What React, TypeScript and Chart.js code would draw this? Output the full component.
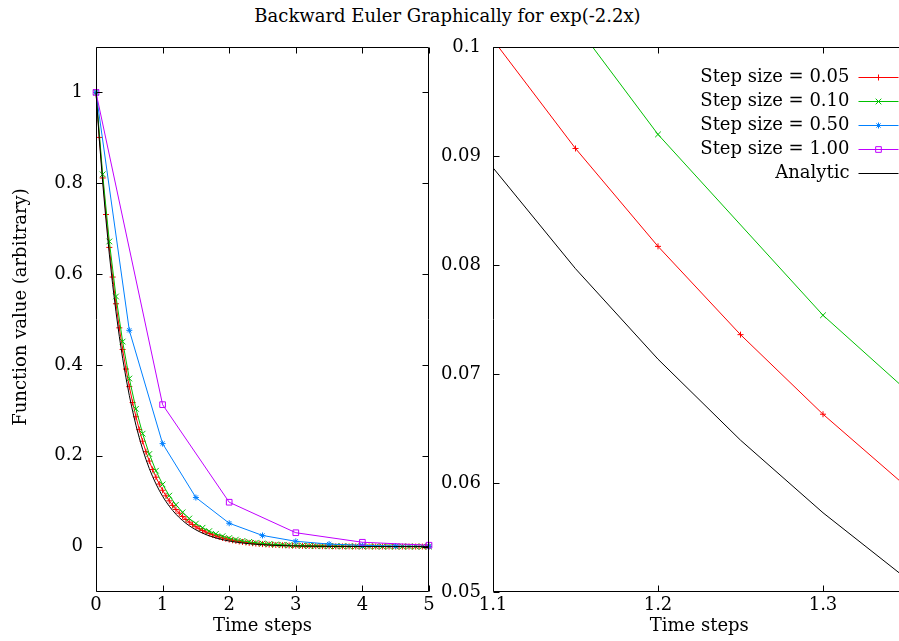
import React, { useEffect, useRef } from 'react';
import { Chart, registerables } from 'chart.js';
Chart.register(...registerables);

const FONT = "'DejaVu Serif', serif";
const FONT_SIZE = 18;

const TITLE = 'Backward Euler Graphically for exp(-2.2x)';
const X_TITLE = 'Time steps';
const Y_TITLE = 'Function value (arbitrary)';

// Backward Euler results, one value per time step
const Y_005 = [
  1, 0.90090, 0.81162, 0.73119, 0.65873, 0.59345, 0.53464, 0.48166, 0.43393, 0.39093,
  0.35218, 0.31728, 0.28584, 0.25751, 0.23200, 0.20900, 0.18829, 0.16963, 0.15282, 0.13768,
  0.12403, 0.11174, 0.10067, 0.09069, 0.08171, 0.07361, 0.06631, 0.05974, 0.05382, 0.04849,
  0.04368, 0.03935, 0.03545, 0.03194, 0.02878, 0.02592, 0.02336, 0.02104, 0.01896, 0.01708,
  0.01539, 0.01386, 0.01249, 0.01125, 0.01014, 0.00913, 0.00823, 0.00741, 0.00668, 0.00602,
  0.00542, 0.00488, 0.00440, 0.00396, 0.00357, 0.00322, 0.00290, 0.00261, 0.00235, 0.00212,
  0.00191, 0.00172, 0.00155, 0.00140, 0.00126, 0.00113, 0.00102, 0.00092, 0.00083, 0.00075,
  0.00067, 0.00061, 0.00055, 0.00049, 0.00044, 0.00040, 0.00036, 0.00032, 0.00029, 0.00026,
  0.00024, 0.00021, 0.00019, 0.00017, 0.00016, 0.00014, 0.00013, 0.00011, 0.00010, 0.00009,
  0.00008, 0.00008, 0.00007, 0.00006, 0.00006, 0.00005, 0.00004, 0.00004, 0.00004, 0.00003,
  0.00003,
];
const Y_010 = [
  1, 0.81967, 0.67186, 0.55071, 0.45140, 0.37000, 0.30328, 0.24859, 0.20376, 0.16702,
  0.13690, 0.11221, 0.09198, 0.07539, 0.06180, 0.05065, 0.04152, 0.03403, 0.02790, 0.02287,
  0.01874, 0.01536, 0.01259, 0.01032, 0.00846, 0.00693, 0.00568, 0.00466, 0.00382, 0.00313,
  0.00257, 0.00210, 0.00172, 0.00141, 0.00116, 0.00095, 0.00078, 0.00064, 0.00052, 0.00043,
  0.00035, 0.00029, 0.00024, 0.00019, 0.00016, 0.00013, 0.00011, 0.00009, 0.00007, 0.00006,
  0.00005,
];
const Y_050 = [1, 0.47619, 0.22676, 0.10798, 0.05142, 0.02449, 0.01166, 0.00555, 0.00264, 0.00126, 0.00060];
const Y_100 = [1, 0.3125, 0.09766, 0.03052, 0.00954, 0.00298];
const Y_ANALYTIC = [
  1, 0.89583, 0.80252, 0.71892, 0.64404, 0.57695, 0.51685, 0.46301, 0.41478, 0.37158,
  0.33287, 0.29820, 0.26714, 0.23931, 0.21438, 0.19205, 0.17205, 0.15412, 0.13807, 0.12369,
  0.11080, 0.09926, 0.08892, 0.07966, 0.07136, 0.06393, 0.05727, 0.05130, 0.04596, 0.04117,
  0.03688, 0.03304, 0.02960, 0.02652, 0.02375, 0.02128, 0.01906, 0.01708, 0.01530, 0.01371,
  0.01228, 0.01100, 0.00985, 0.00883, 0.00791, 0.00708, 0.00635, 0.00568, 0.00509, 0.00456,
  0.00409, 0.00366, 0.00328, 0.00294, 0.00263, 0.00236, 0.00211, 0.00189, 0.00170, 0.00152,
  0.00136, 0.00122, 0.00109, 0.00098, 0.00088, 0.00079, 0.00070, 0.00063, 0.00056, 0.00051,
  0.00045, 0.00041, 0.00036, 0.00033, 0.00029, 0.00026, 0.00023, 0.00021, 0.00019, 0.00017,
  0.00015, 0.00014, 0.00012, 0.00011, 0.00010, 0.00009, 0.00008, 0.00007, 0.00006, 0.00006,
  0.00005, 0.00005, 0.00004, 0.00004, 0.00003, 0.00003, 0.00003, 0.00002, 0.00002, 0.00002,
  0.00002,
];

const SERIES_LABELS = ['Step size = 0.05', 'Step size = 0.10', 'Step size = 0.50', 'Step size = 1.00', 'Analytic'];
const SERIES_STEPS = [0.05, 0.1, 0.5, 1, 0.05];
const SERIES_VALUES = [Y_005, Y_010, Y_050, Y_100, Y_ANALYTIC];
const SERIES_COLORS = ['#ff0000', '#00c000', '#0080ff', '#c000ff', '#000000'];
const SERIES_MARKERS: (string | false)[] = ['cross', 'crossRot', 'star', 'rect', false];
const SERIES_RADII = [3, 4, 3, 4, 0];

const LEFT_X_TICKS = [0, 1, 2, 3, 4, 5];
const LEFT_X_LABELS = ['0', '1', '2', '3', '4', '5'];
const LEFT_Y_TICKS = [0, 0.2, 0.4, 0.6, 0.8, 1];
const LEFT_Y_LABELS = ['0', '0.2', '0.4', '0.6', '0.8', '1'];
const RIGHT_X_TICKS = [1.1, 1.2, 1.3];
const RIGHT_X_LABELS = ['1.1', '1.2', '1.3'];
const RIGHT_Y_TICKS = [0.05, 0.06, 0.07, 0.08, 0.09, 0.1];
const RIGHT_Y_LABELS = ['0.05', '0.06', '0.07', '0.08', '0.09', '0.1'];

function buildDatasets(clip: any) {
  return SERIES_LABELS.map((label, k) => ({
    label,
    data: SERIES_VALUES[k].map((y, i) => ({ x: +(i * SERIES_STEPS[k]).toFixed(4), y })),
    borderColor: SERIES_COLORS[k],
    backgroundColor: 'rgba(0,0,0,0)',
    borderWidth: 1,
    pointStyle: SERIES_MARKERS[k] as any,
    pointRadius: SERIES_RADII[k],
    pointBorderWidth: 1,
    pointBorderColor: SERIES_COLORS[k],
    pointBackgroundColor: 'rgba(0,0,0,0)',
    tension: 0,
    order: 5 - k,
    clip,
  }));
}

function drawMarker(ctx: CanvasRenderingContext2D, style: string | false, x: number, y: number, r: number) {
  if (!style) return;
  ctx.beginPath();
  if (style === 'cross' || style === 'star') {
    ctx.moveTo(x - r, y); ctx.lineTo(x + r, y);
    ctx.moveTo(x, y - r); ctx.lineTo(x, y + r);
  }
  if (style === 'crossRot' || style === 'star') {
    const d = r * Math.SQRT1_2;
    ctx.moveTo(x - d, y - d); ctx.lineTo(x + d, y + d);
    ctx.moveTo(x - d, y + d); ctx.lineTo(x + d, y - d);
  }
  if (style === 'rect') {
    const s = r * Math.SQRT1_2;
    ctx.rect(x - s, y - s, 2 * s, 2 * s);
  }
  ctx.stroke();
}

const TICK_LEN = 6;

const framePlugin = {
  id: 'frame',
  afterDatasetsDraw(chart: any) {
    const { ctx, chartArea } = chart;
    const { left, top, right, bottom } = chartArea;
    const L = Math.round(left) + 0.5, R = Math.round(right) - 0.5, T = Math.round(top) + 0.5, B = Math.round(bottom) - 0.5;
    ctx.save();
    ctx.strokeStyle = '#000';
    ctx.lineWidth = 1;
    ctx.beginPath();
    ctx.moveTo(L, T); ctx.lineTo(R, T); ctx.lineTo(R, B); ctx.lineTo(L, B); ctx.closePath();
    const xs = chart.scales.x, ys = chart.scales.y;
    xs.ticks.forEach((t: any) => {
      const px = Math.round(xs.getPixelForValue(t.value)) + 0.5;
      ctx.moveTo(px, B); ctx.lineTo(px, B - TICK_LEN);
      ctx.moveTo(px, T); ctx.lineTo(px, T + TICK_LEN);
    });
    ys.ticks.forEach((t: any) => {
      const py = Math.round(ys.getPixelForValue(t.value)) + 0.5;
      ctx.moveTo(L, py); ctx.lineTo(L + TICK_LEN, py);
      ctx.moveTo(R, py); ctx.lineTo(R - TICK_LEN, py);
    });
    ctx.stroke();
    ctx.restore();
  },
};

const yTitlePlugin = {
  id: 'ytitle',
  afterDraw(chart: any) {
    const { ctx } = chart;
    ctx.save();
    ctx.translate(21, 307);
    ctx.rotate(-Math.PI / 2);
    ctx.font = `${FONT_SIZE}px ${FONT}`;
    ctx.fillStyle = '#000';
    ctx.textAlign = 'center';
    ctx.textBaseline = 'middle';
    ctx.fillText(Y_TITLE, 0, 0);
    ctx.restore();
  },
};

const legendPlugin = {
  id: 'keybox',
  afterDatasetsDraw(chart: any) {
    const { ctx, chartArea } = chart;
    const { top, right } = chartArea;
    ctx.save();
    ctx.font = `${FONT_SIZE}px ${FONT}`;
    ctx.textAlign = 'right';
    ctx.textBaseline = 'middle';
    chart.data.datasets.forEach((ds: any, k: number) => {
      const y = top + 30 + k * 24;
      ctx.fillStyle = '#000';
      ctx.fillText(ds.label, right - 56, y);
      ctx.strokeStyle = SERIES_COLORS[k];
      ctx.lineWidth = 1;
      ctx.beginPath();
      ctx.moveTo(right - 47, Math.round(y) + 0.5);
      ctx.lineTo(right - 7, Math.round(y) + 0.5);
      ctx.stroke();
      ctx.strokeStyle = SERIES_COLORS[k];
      drawMarker(ctx, SERIES_MARKERS[k], right - 27, Math.round(y) + 0.5, SERIES_RADII[k]);
    });
    ctx.restore();
  },
};

function scaleOpts(min: number, max: number, ticks: number[], labels: string[], padding: number, extra: any) {
  return {
    type: 'linear',
    min,
    max,
    grid: { display: false, drawTicks: false },
    border: { display: false },
    afterBuildTicks: (s: any) => { s.ticks = ticks.map((v) => ({ value: v })); },
    ticks: {
      padding,
      autoSkip: false,
      maxRotation: 0,
      color: '#000',
      font: { family: FONT, size: FONT_SIZE },
      callback: (v: any) => {
        const i = ticks.findIndex((t) => Math.abs(t - v) < 1e-9);
        return i >= 0 ? labels[i] : '';
      },
    },
    ...extra,
  };
}

function xTitle() {
  return { display: true, text: X_TITLE, color: '#000', font: { family: FONT, size: FONT_SIZE }, padding: { top: 0, bottom: 4 } };
}

export default function App() {
  const leftRef = useRef<HTMLCanvasElement>(null);
  const rightRef = useRef<HTMLCanvasElement>(null);

  useEffect(() => {
    Chart.defaults.font.family = FONT;
    Chart.defaults.font.size = FONT_SIZE;
    Chart.defaults.color = '#000';
    const common = {
      animation: false,
      responsive: false,
      devicePixelRatio: 1,
      plugins: { legend: { display: false }, tooltip: { enabled: false }, title: { display: false } },
    };
    const left = new Chart(leftRef.current as HTMLCanvasElement, {
      type: 'line',
      data: { datasets: buildDatasets(false) as any },
      options: {
        ...common,
        layout: { padding: { top: 47, right: 21, left: 0, bottom: 0 } },
        scales: {
          x: scaleOpts(0, 5, LEFT_X_TICKS, LEFT_X_LABELS, 3, {
            position: 'bottom',
            title: xTitle(),
            afterFit: (s: any) => { s.height = 49; },
          }),
          y: scaleOpts(-0.1, 1.1, LEFT_Y_TICKS, LEFT_Y_LABELS, 13, {
            position: 'left',
            afterFit: (s: any) => { s.width = 96; },
          }),
        },
      } as any,
      plugins: [framePlugin, yTitlePlugin],
    });
    const right = new Chart(rightRef.current as HTMLCanvasElement, {
      type: 'line',
      data: { datasets: buildDatasets(0) as any },
      options: {
        ...common,
        layout: { padding: { top: 47, right: 16.5, left: 0, bottom: 0 } },
        scales: {
          x: scaleOpts(1.1, 1.35, RIGHT_X_TICKS, RIGHT_X_LABELS, 3, {
            position: 'bottom',
            title: xTitle(),
            afterFit: (s: any) => { s.height = 49; },
          }),
          y: scaleOpts(0.05, 0.1, RIGHT_Y_TICKS, RIGHT_Y_LABELS, 12, {
            position: 'left',
            afterFit: (s: any) => { s.width = 61; },
          }),
        },
      } as any,
      plugins: [framePlugin, legendPlugin],
    });
    return () => {
      left.destroy();
      right.destroy();
    };
  }, []);

  return (
    <div style={{ position: 'absolute', left: 0, top: 0, width: 899, height: 641, overflow: 'hidden', background: '#fff' }}>
      <div
        style={{
          position: 'absolute', left: 0, top: 5, width: 895, textAlign: 'center',
          fontFamily: FONT, fontSize: FONT_SIZE, lineHeight: '22px', color: '#000', whiteSpace: 'nowrap',
        }}
      >
        {TITLE}
      </div>
      <canvas ref={leftRef} width={450} height={641} style={{ position: 'absolute', left: 0, top: 0 }} />
      <canvas ref={rightRef} width={490} height={641} style={{ position: 'absolute', left: 432, top: 0 }} />
    </div>
  );
}
